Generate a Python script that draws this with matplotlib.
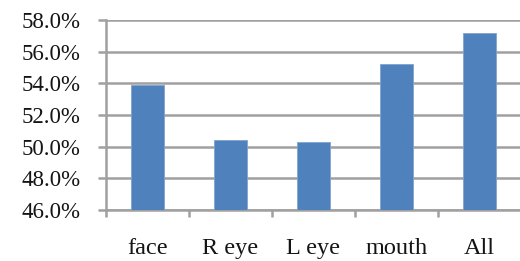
import matplotlib
matplotlib.use("Agg")
import matplotlib.pyplot as plt
from matplotlib.ticker import FuncFormatter, FixedLocator

categories = ["face", "R eye", "L eye", "mouth", "All"]
values = [53.9, 50.4, 50.3, 55.2, 57.2]
yticks = [46, 48, 50, 52, 54, 56, 58]

W, H, DPI = 520, 261, 100
fig = plt.figure(figsize=(W / DPI, H / DPI), dpi=DPI)
ax = fig.add_axes([106 / W, 1 - 210 / H, (521 - 106) / W, (210 - 20) / H])

grid_c = "#a0a0a0"
x = list(range(len(categories)))
ax.bar(x, [v - 46 for v in values], bottom=46, width=0.4, color="#4f81bd",
       edgecolor="#7fa3d1", linewidth=0.6, zorder=3)

ax.set_xlim(-0.5, len(categories) - 0.5)
ax.set_ylim(46, 58)
ax.set_yticks(yticks)
ax.yaxis.set_major_formatter(FuncFormatter(lambda v, p: f"{v:.1f}%"))
ax.set_xticks(x)
ax.set_xticklabels(categories)
ax.xaxis.set_minor_locator(FixedLocator([i + 0.5 for i in range(-1, len(categories))]))

ax.grid(axis="y", color=grid_c, linewidth=1.8, zorder=0)
for s in ["top", "right"]:
    ax.spines[s].set_visible(False)
ax.spines["left"].set_color(grid_c)
ax.spines["left"].set_linewidth(1.8)
ax.spines["bottom"].set_color(grid_c)
ax.spines["bottom"].set_linewidth(1.8)

fam = ["Liberation Serif", "DejaVu Serif"]
ax.tick_params(axis="y", length=5.5, width=1.8, color=grid_c, pad=13,
               labelsize=16.5, labelcolor="#141414")
ax.tick_params(axis="x", which="major", length=0, pad=20.5,
               labelsize=17.5, labelcolor="#141414")
ax.tick_params(axis="x", which="minor", length=5, width=1.8, color=grid_c)
for lab in ax.get_yticklabels() + ax.get_xticklabels():
    lab.set_family(fam)

fig.savefig("out.png", dpi=DPI)
